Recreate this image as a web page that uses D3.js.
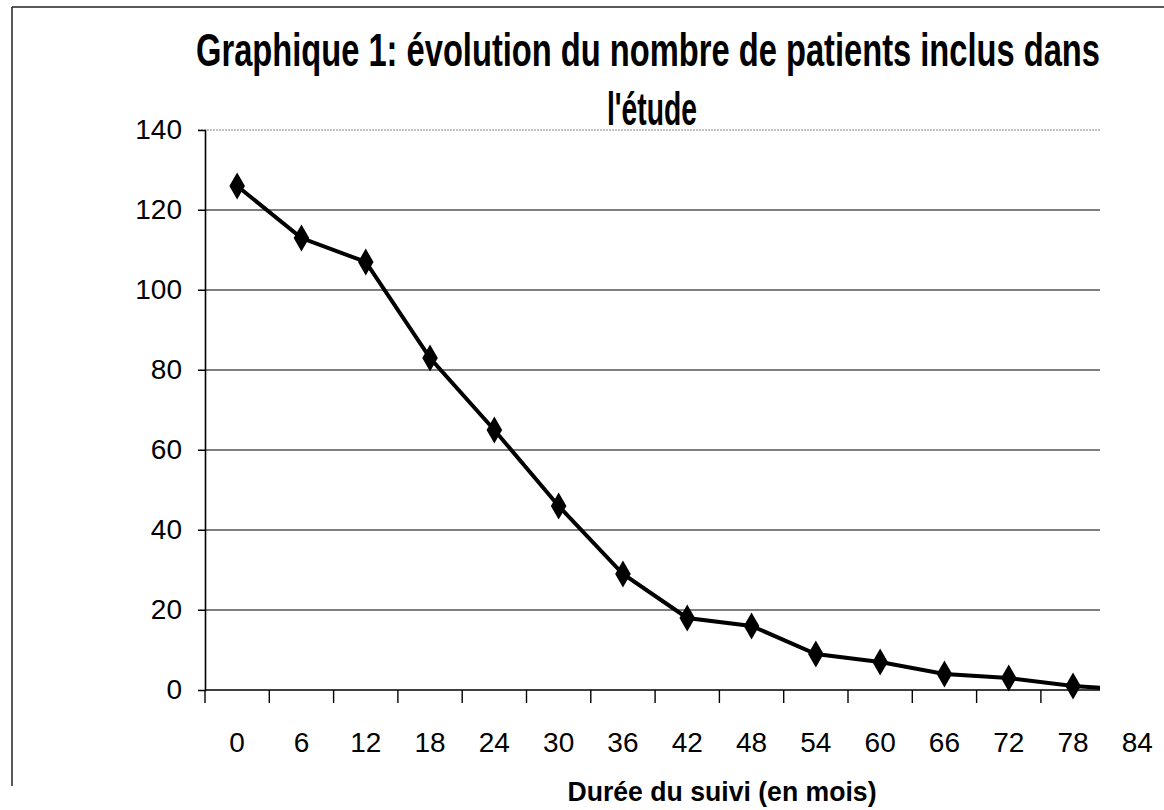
<!DOCTYPE html>
<html>
<head>
<meta charset="utf-8">
<script src="https://cdn.jsdelivr.net/npm/d3@7"></script>
<style>
body{margin:0;background:#fff}
svg{display:block}
text{font-family:"Liberation Sans",Arial,sans-serif;fill:#000}
</style>
</head>
<body>
<div id="chart"></div>
<script>
// donnees
var mois = ['0','6','12','18','24','30','36','42','48','54','60','66','72','78','84']
var patients = [126,113,107,83,65,46,29,18,16,9,7,4,3,1,0]
var yTicks = [0,20,40,60,80,100,120,140]
var titre1 = 'Graphique 1: évolution du nombre de patients inclus dans'
var titre2 = "l'étude"
var titreX = 'Durée du suivi (en mois)'

var svg = d3.select('#chart').append('svg')
.attr('width',1164)
.attr('height',810)

var marginL = 205, plotR = 1100, plotT = 130, plotB = 690
var step = 64.3

var x = d3.scaleBand().domain(mois).range([marginL,marginL+step*mois.length])
var y = d3.scaleLinear().domain([0,140]).range([plotB,plotT])

// cadre exterieur (haut + gauche)
svg.append('line').attr('x1',12).attr('y1',7).attr('x2',1164).attr('y2',7).attr('stroke','#222').attr('stroke-width',1.5)
svg.append('line').attr('x1',12).attr('y1',7).attr('x2',12).attr('y2',786).attr('stroke','#222').attr('stroke-width',1.5)

svg.append('defs').append('clipPath').attr('id','plot')
.append('rect').attr('x',marginL).attr('y',plotT-20).attr('width',plotR-marginL).attr('height',plotB-plotT+40)

// grille horizontale
svg.append('g').selectAll('line').data(yTicks.slice(1)).enter().append('line')
.attr('x1',marginL-7).attr('x2',plotR)
.attr('y1',function(d){return y(d)}).attr('y2',function(d){return y(d)})
.attr('stroke',function(d){return d==140 ? '#888' : '#555'})
.attr('stroke-width',function(d){return d==140 ? 1.2 : 1.6})
.attr('stroke-dasharray',function(d){return d==140 ? '2,1' : null})

// axe y
var yaxis = svg.append('g').attr('transform','translate('+marginL+',0)')
.call(d3.axisLeft(y).tickValues(yTicks).tickSize(7).tickPadding(16))
yaxis.select('.domain').attr('stroke','#000').attr('stroke-width',1.6)
yaxis.selectAll('.tick line').attr('stroke','#000')
yaxis.selectAll('text').style('font-size','28px').attr('fill','#000')

// axe x : libelles centres sur les categories
var xaxis = svg.append('g').attr('transform','translate(0,'+plotB+')')
.call(d3.axisBottom(x).tickSize(0).tickPadding(42))
xaxis.select('.domain').remove()
xaxis.selectAll('text').style('font-size','28px').attr('fill','#000')
svg.append('line').attr('x1',marginL).attr('x2',plotR).attr('y1',plotB).attr('y2',plotB)
.attr('stroke','#000').attr('stroke-width',1.6)
svg.append('g').selectAll('line').data(mois.filter(function(m){return x(m)<=plotR})).enter().append('line')
.attr('x1',function(d){return x(d)}).attr('x2',function(d){return x(d)})
.attr('y1',plotB).attr('y2',plotB+13)
.attr('stroke','#000').attr('stroke-width',1.4)

// courbe
var pts = mois.map(function(m,i){return [x(m)+x.bandwidth()/2, y(patients[i])]})
var g = svg.append('g').attr('clip-path','url(#plot)')
g.append('path').datum(pts)
.attr('d',d3.line())
.attr('fill','none').attr('stroke','#000').attr('stroke-width',4)
g.selectAll('.pt').data(pts.slice(0,14)).enter().append('path')
.attr('class','pt')
.attr('transform',function(d){return 'translate('+d[0]+','+d[1]+')'})
.attr('d',d3.symbol().type(d3.symbolDiamond).size(210))
.attr('fill','#000')

// titres
svg.append('text').attr('x',648).attr('y',66).attr('text-anchor','middle')
.attr('textLength',904).attr('lengthAdjust','spacingAndGlyphs')
.style('font-size','46px').style('font-weight','bold').text(titre1)
svg.append('text').attr('x',652).attr('y',125).attr('text-anchor','middle')
.attr('textLength',90).attr('lengthAdjust','spacingAndGlyphs')
.style('font-size','46px').style('font-weight','bold').text(titre2)
svg.append('text').attr('x',722).attr('y',801).attr('text-anchor','middle')
.attr('textLength',309).attr('lengthAdjust','spacingAndGlyphs')
.style('font-size','28px').style('font-weight','bold').text(titreX)
</script>
</body>
</html>
